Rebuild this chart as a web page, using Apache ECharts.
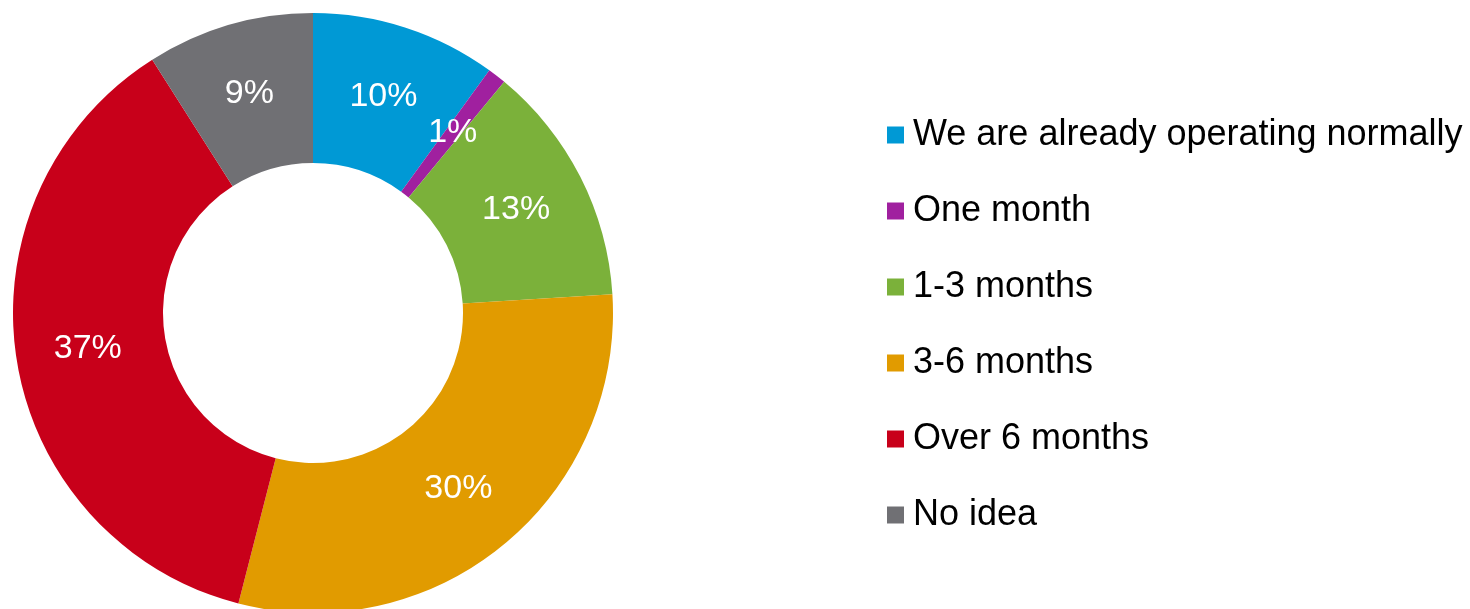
<!DOCTYPE html>
<html>
<head>
<meta charset="utf-8">
<script src="https://cdn.jsdelivr.net/npm/echarts@6/dist/echarts.min.js"></script>
<style>
  html, body { margin: 0; padding: 0; background: #ffffff; }
  #chart { width: 1470px; height: 609px; }
</style>
</head>
<body>
<div id="chart"></div>
<script>
// Expected time until business returns to normal (share of respondents, %)
const categories = [
  'We are already operating normally',
  'One month',
  '1-3 months',
  '3-6 months',
  'Over 6 months',
  'No idea'
];
const shares = [10, 1, 13, 30, 37, 9];
const colors = ['#0099d5', '#a0209f', '#7bb13a', '#e19b00', '#c8001a', '#707074'];

const chart = echarts.init(document.getElementById('chart'), null, { renderer: 'canvas' });

chart.setOption({
  animation: false,
  backgroundColor: '#ffffff',
  color: colors,
  legend: {
    orient: 'vertical',
    left: 882,
    top: 110,
    itemWidth: 17,
    itemHeight: 17,
    itemGap: 36,
    icon: 'rect',
    textStyle: {
      fontFamily: '"Liberation Sans", Arial, sans-serif',
      fontSize: 36,
      lineHeight: 40,
      color: '#000000',
      padding: [0, 0, 0, 4]
    },
    data: categories
  },
  series: [{
    type: 'pie',
    center: [313, 313],
    radius: [150, 300],
    startAngle: 90,
    clockwise: true,
    avoidLabelOverlap: false,
    label: {
      show: true,
      position: 'inside',
      formatter: '{c}%',
      color: '#ffffff',
      fontFamily: '"Liberation Sans", Arial, sans-serif',
      fontSize: 34
    },
    labelLine: { show: false },
    itemStyle: { borderWidth: 0 },
    emphasis: { disabled: true },
    data: categories.map((name, i) => ({ name, value: shares[i] }))
  }]
});
</script>
</body>
</html>
